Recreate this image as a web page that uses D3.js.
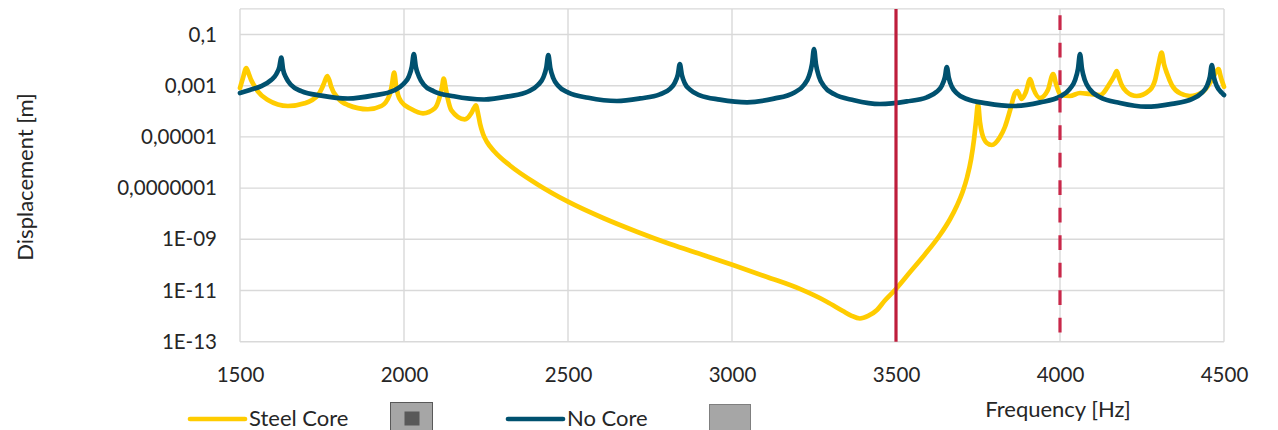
<!DOCTYPE html>
<html><head><meta charset="utf-8">
<script src="https://cdn.jsdelivr.net/npm/d3@7"></script>
<style>
html,body{margin:0;padding:0;background:#fff;overflow:hidden}
text{font-family:Lato,"Liberation Sans",sans-serif;fill:#262626}
</style>
</head><body>
<svg id="chart" width="1278" height="430"></svg>
<script>
// ---- data ----
const xTicks = [1500, 2000, 2500, 3000, 3500, 4000, 4500];
const yTickValues = [1e-13, 1e-11, 1e-9, 1e-7, 1e-5, 1e-3, 1e-1];
const yTickLabels = ["1E-13", "1E-11", "1E-09", "0,0000001", "0,00001", "0,001", "0,1"];
const markerFreqs = [3500, 4000];
const seriesNames = ["Steel Core", "No Core"];

const steelFreq = [1500,1509,1519,1527,1534,1546,1555,1585,1646,1697,
1738,1750,1756,1766,1773,1778,1799,1829,1890,1931,
1956,1963,1970,1976,1982,1992,2022,2058,2094,2109,
2116,2121,2127,2133,2144,2185,2205,2213,2219,2226,
2232,2241,2253,2277,2323,2405,2500,2607,2710,2811,2912,
3003,3107,3207,3289,3338,3363,3390,3415,3442,3466,
3497,3543,3588,3634,3665,3686,3704,3717,3729,3738,
3744,3750,3756,3762,3777,3792,3817,3832,3848,3863,
3870,3883,3896,3909,3918,3939,3963,3979,3988,4002,
4030,4061,4091,4122,4152,4165,4173,4180,4188,4203,
4234,4274,4290,4300,4310,4317,4326,4341,4366,4396,
4436,4457,4469,4483,4491,4500];
const steelDisp = [8.13e-4,2.0e-3,4.91e-3,2.86e-3,1.67e-3,8.89e-4,5.83e-4,2.76e-4,1.61e-4,2.05e-4,
4.33e-4,8.13e-4,1.24e-3,2.39e-3,1.53e-3,9.14e-4,3.22e-4,1.76e-4,1.2e-4,1.61e-4,
4.33e-4,1.06e-3,3.28e-3,9.73e-4,4.33e-4,2.37e-4,1.23e-4,8.36e-5,1.31e-4,3.72e-4,
8.89e-4,1.91e-3,8.13e-4,3.31e-4,1.12e-4,4.87e-5,8.36e-5,1.31e-4,1.69e-4,7.85e-5,
3.19e-5,1.3e-5,6.32e-6,2.57e-6,7.64e-7,1.45e-7,2.94e-8,6.79e-9,1.98e-9,6.55e-10,2.44e-10,
9.9e-11,3.37e-11,1.15e-11,3.65e-12,1.58e-12,1.05e-12,8.05e-13,1.01e-12,1.73e-12,4.06e-12,
1.05e-11,5.28e-11,2.55e-10,1.47e-9,6.21e-9,2.09e-8,7.71e-8,2.72e-7,1.37e-6,8.28e-6,
4.18e-5,1.93e-4,3.82e-5,1.42e-5,5.78e-6,4.83e-6,9.9e-6,2.44e-5,1.12e-4,5.19e-4,
6.21e-4,3.02e-4,5.68e-4,1.83e-3,8.13e-4,3.31e-4,6.79e-4,2.86e-3,1.16e-3,4.33e-4,
3.96e-4,5.19e-4,4.74e-4,4.33e-4,1.24e-3,2.39e-3,3.75e-3,2.0e-3,1.06e-3,5.83e-4,
3.96e-4,6.79e-4,1.67e-3,6.44e-3,1.95e-2,7.05e-3,3.05e-3,1.06e-3,5.05e-4,3.96e-4,
5.83e-4,1.27e-3,2.39e-3,4.49e-3,2.0e-3,9.14e-4];

const noCoreFreq = [1500,1530,1565,1595,1611,1620,1626,1631,1641,1656,
1687,1748,1829,1908,1969,1999,2015,2024,2030,2036,
2046,2060,2091,2152,2244,2318,2379,2409,2425,2434,
2440,2446,2455,2470,2501,2562,2649,2720,2780,2811,
2826,2835,2841,2847,2856,2872,2902,2963,3046,3128,
3189,3220,3235,3244,3250,3256,3265,3280,3311,3372,
3451,3533,3594,3624,3640,3649,3655,3661,3670,3685,
3716,3777,3857,3939,4000,4030,4046,4055,4061,4067,
4076,4091,4122,4183,4262,4341,4402,4432,4448,4457,
4463,4469,4478,4494,4500];
const noCoreDisp = [5.2e-4,6.8e-4,9.7e-4,1.67e-3,2.86e-3,5.37e-3,1.26e-2,4.49e-3,2.0e-3,1.06e-3,
6.15e-4,4.1e-4,3.16e-4,4.18e-4,6.49e-4,1.19e-3,2.33e-3,5.62e-3,1.73e-2,5.52e-3,
2.23e-3,1.11e-3,6.04e-4,3.85e-4,2.89e-4,3.82e-4,5.93e-4,1.08e-3,2.13e-3,5.14e-3,
1.58e-2,4.95e-3,2.0e-3,9.9e-4,5.33e-4,3.37e-4,2.52e-4,3.19e-4,4.61e-4,7.57e-4,
1.33e-3,2.76e-3,7.05e-3,2.69e-3,1.25e-3,6.98e-4,4.18e-4,2.86e-4,2.25e-4,3.13e-4,
5.33e-4,1.09e-3,2.46e-3,7.11e-3,2.72e-2,6.79e-3,2.29e-3,9.8e-4,4.7e-4,2.72e-4,
1.93e-4,2.44e-4,3.52e-4,5.78e-4,1.02e-3,2.11e-3,5.37e-3,2.02e-3,9.31e-4,5.14e-4,
3.02e-4,2.05e-4,1.61e-4,2.23e-4,3.75e-4,7.57e-4,1.67e-3,4.66e-3,1.73e-2,4.57e-3,
1.61e-3,7.23e-4,3.56e-4,2.11e-4,1.51e-4,1.96e-4,2.97e-4,5.24e-4,9.8e-4,2.25e-3,
6.44e-3,2.19e-3,9.73e-4,5.19e-4,4.33e-4];

// ---- chart ----
const svg = d3.select("#chart");
const L = 240, R = 1224, T = 8.9, B = 341.7;
const x = d3.scaleLinear().domain([1500, 4500]).range([L, R]);
const y = d3.scaleLog().domain([1e-13, 1]).range([B, T]);
const grid = "#d9d9d9";
const FS_TICK = 20.5, FS = 22;

// gridlines
svg.append("g").selectAll("line").data(yTickValues.concat([1])).join("line")
  .attr("x1", L).attr("x2", R).attr("y1", d => y(d)).attr("y2", d => y(d))
  .attr("stroke", grid).attr("stroke-width", 1.4);
svg.append("g").selectAll("line").data(xTicks).join("line")
  .attr("x1", d => x(d)).attr("x2", d => x(d)).attr("y1", T).attr("y2", B)
  .attr("stroke", grid).attr("stroke-width", 1.4);

// axes (labels only)
const yAxis = svg.append("g").attr("transform", `translate(${L},0)`)
  .call(d3.axisLeft(y).tickValues(yTickValues).tickFormat((d, i) => yTickLabels[i]).tickSize(0).tickPadding(23));
yAxis.select(".domain").remove();
yAxis.selectAll("text").attr("font-size", FS_TICK).attr("font-family", null).style("fill", "#262626");

const xAxis = svg.append("g").attr("transform", `translate(0,${B})`)
  .call(d3.axisBottom(x).tickValues(xTicks).tickFormat(d3.format("d")).tickSize(0));
xAxis.select(".domain").remove();
xAxis.selectAll("text").attr("font-size", FS_TICK).attr("font-family", null).attr("y", 40.3).attr("dy", 0).style("fill", "#262626");

// series
const line = d3.line().x(d => x(d[0])).y(d => y(d[1])).curve(d3.curveMonotoneX);
const steel = d3.zip(steelFreq, steelDisp);
const noCore = d3.zip(noCoreFreq, noCoreDisp);
const colors = ["#FFCC00", "#00516F"];
[steel, noCore].forEach((data, i) => {
  svg.append("path").datum(data).attr("d", line)
    .attr("fill", "none").attr("stroke", colors[i]).attr("stroke-width", 4.7)
    .attr("stroke-linejoin", "round").attr("stroke-linecap", "round");
});

// marker frequency lines
svg.append("g").selectAll("line").data(markerFreqs).join("line")
  .attr("x1", d => x(d)).attr("x2", d => x(d)).attr("y1", T).attr("y2", B)
  .attr("stroke", (d, i) => i === 0 ? "#BE1E3C" : "#C8284A")
  .attr("stroke-width", 3.2)
  .attr("stroke-dasharray", (d, i) => i === 0 ? null : "14.7,12.8")
  .attr("stroke-dashoffset", (d, i) => i === 0 ? null : 21.2);

// axis titles
svg.append("text").attr("transform", "translate(33,177) rotate(-90)")
  .attr("text-anchor", "middle").attr("font-size", FS).text("Displacement [m]");
svg.append("text").attr("x", 1058).attr("y", 417)
  .attr("text-anchor", "middle").attr("font-size", FS).text("Frequency [Hz]");

// legend
const lg = svg.append("g");
const legendX = [190, 508];
seriesNames.forEach((name, i) => {
  lg.append("line").attr("x1", legendX[i]).attr("x2", legendX[i] + 55).attr("y1", 419).attr("y2", 419)
    .attr("stroke", colors[i]).attr("stroke-width", 4.7).attr("stroke-linecap", "round");
  lg.append("text").attr("x", legendX[i] + 59).attr("y", 426).attr("font-size", FS).text(name);
});
lg.append("rect").attr("x", 390.5).attr("y", 402.5).attr("width", 42).attr("height", 40)
  .attr("fill", "#A6A6A6").attr("stroke", "#595959").attr("stroke-width", 1);
lg.append("rect").attr("x", 404.5).attr("y", 411.5).attr("width", 15).attr("height", 14).attr("fill", "#595959");
lg.append("rect").attr("x", 709.5).attr("y", 404.5).attr("width", 41).attr("height", 40)
  .attr("fill", "#A6A6A6").attr("stroke", "#7F7F7F").attr("stroke-width", 1);
</script>
</body></html>
